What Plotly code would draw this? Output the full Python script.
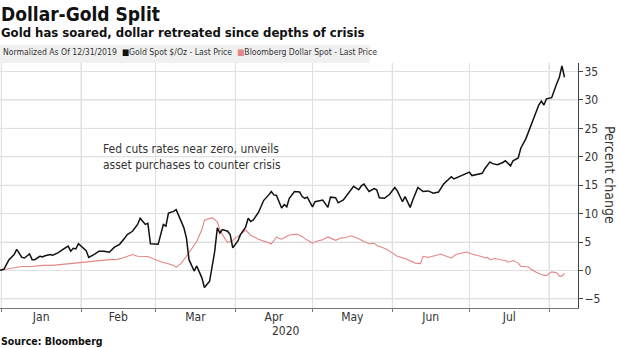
import plotly.graph_objects as go

FONT = "Liberation Sans Narrow, DejaVu Sans Condensed, Roboto Condensed, Arial Narrow, sans-serif"

gold_dates = [
    "2019-12-31", "2020-01-02", "2020-01-04", "2020-01-06", "2020-01-07", "2020-01-08",
    "2020-01-09", "2020-01-10", "2020-01-12", "2020-01-13", "2020-01-14", "2020-01-16",
    "2020-01-17", "2020-01-18", "2020-01-20", "2020-01-21", "2020-01-23", "2020-01-25",
    "2020-01-27", "2020-01-28", "2020-01-29", "2020-01-30", "2020-01-31",
    "2020-02-03", "2020-02-04", "2020-02-06", "2020-02-08", "2020-02-10", "2020-02-12",
    "2020-02-14", "2020-02-16", "2020-02-18", "2020-02-19", "2020-02-21", "2020-02-23",
    "2020-02-24", "2020-02-26", "2020-02-27", "2020-02-28",
    "2020-03-02", "2020-03-04", "2020-03-05", "2020-03-06", "2020-03-08", "2020-03-09",
    "2020-03-11", "2020-03-12", "2020-03-13", "2020-03-14", "2020-03-16", "2020-03-17",
    "2020-03-19", "2020-03-20", "2020-03-22", "2020-03-23", "2020-03-24", "2020-03-25",
    "2020-03-26", "2020-03-27", "2020-03-29", "2020-03-30", "2020-03-31",
    "2020-04-02", "2020-04-03", "2020-04-05", "2020-04-06", "2020-04-07", "2020-04-08",
    "2020-04-10", "2020-04-11", "2020-04-12", "2020-04-14", "2020-04-15", "2020-04-16",
    "2020-04-17", "2020-04-19", "2020-04-20", "2020-04-21", "2020-04-22", "2020-04-24",
    "2020-04-26", "2020-04-27", "2020-04-28", "2020-04-29",
    "2020-05-01", "2020-05-02", "2020-05-04", "2020-05-05", "2020-05-07", "2020-05-08",
    "2020-05-10", "2020-05-11", "2020-05-13", "2020-05-15", "2020-05-17", "2020-05-19",
    "2020-05-20", "2020-05-21", "2020-05-23", "2020-05-25", "2020-05-26", "2020-05-27",
    "2020-05-29", "2020-05-31",
    "2020-06-02", "2020-06-03", "2020-06-05", "2020-06-06", "2020-06-08", "2020-06-09",
    "2020-06-11", "2020-06-13", "2020-06-15", "2020-06-17", "2020-06-19", "2020-06-21",
    "2020-06-22", "2020-06-24", "2020-06-25", "2020-06-27", "2020-06-29",
    "2020-07-01", "2020-07-02", "2020-07-04", "2020-07-06", "2020-07-07", "2020-07-09",
    "2020-07-10", "2020-07-12", "2020-07-14", "2020-07-15", "2020-07-17", "2020-07-18",
    "2020-07-20", "2020-07-21", "2020-07-23", "2020-07-24", "2020-07-25", "2020-07-27",
    "2020-07-28", "2020-07-29", "2020-07-30", "2020-07-31",
    "2020-08-02", "2020-08-04", "2020-08-05", "2020-08-06", "2020-08-07",
]
gold_values = [
    0.0, 0.2, 1.9, 2.8, 3.7, 3.1,
    2.3, 2.2, 2.9, 1.9, 1.9, 2.5,
    2.4, 2.6, 2.8, 2.7, 3.1, 3.7,
    4.3, 3.4, 3.9, 3.8, 4.7,
    3.5, 2.3, 2.8, 3.4, 3.4, 3.2,
    4.1, 4.6, 5.7, 6.3, 6.9, 8.1,
    9.2, 8.1, 8.3, 4.7,
    4.6, 8.1, 7.8, 10.1, 10.4, 10.7,
    8.6, 7.5, 5.7, 1.9, -0.1, 0.8,
    -1.3, -3.0, -1.9, 0.5, 3.4, 7.5,
    6.6, 7.2, 6.9, 6.3, 4.0,
    5.2, 6.3, 7.6, 9.2, 8.6, 8.9,
    10.2, 11.3, 12.3, 13.3, 13.9, 13.3,
    13.2, 11.0, 11.6, 11.2, 12.7, 13.9,
    13.8, 13.0, 12.7, 12.9,
    11.2, 12.1, 12.3, 12.4, 11.1, 12.9,
    12.8, 11.9, 12.4, 13.6, 14.8, 14.2,
    14.9, 15.2, 13.9, 14.4, 14.2, 12.8,
    12.7, 13.4,
    14.6, 14.0, 12.1, 13.0, 11.1, 12.4,
    14.6, 13.9, 14.0, 13.6, 13.8, 15.2,
    15.6, 16.5, 16.1, 16.5, 16.8,
    17.3, 16.7, 16.9, 17.1, 17.9, 19.1,
    18.8, 18.6, 19.0, 19.3, 18.4, 19.3,
    19.8, 21.5, 23.2, 24.4, 25.3, 27.9,
    29.1, 29.8, 29.1, 30.2,
    30.4, 32.9, 34.0, 36.0, 34.0,
]

dollar_dates = [
    "2019-12-31", "2020-01-04", "2020-01-07", "2020-01-09", "2020-01-13", "2020-01-17",
    "2020-01-21", "2020-01-24", "2020-01-28", "2020-01-31",
    "2020-02-03", "2020-02-07", "2020-02-11", "2020-02-15", "2020-02-17", "2020-02-21",
    "2020-02-23", "2020-02-27", "2020-02-29",
    "2020-03-03", "2020-03-06", "2020-03-08", "2020-03-09", "2020-03-11", "2020-03-13",
    "2020-03-15", "2020-03-17", "2020-03-19", "2020-03-20", "2020-03-23", "2020-03-25",
    "2020-03-26", "2020-03-27", "2020-03-29", "2020-03-31",
    "2020-04-01", "2020-04-03", "2020-04-05", "2020-04-07", "2020-04-10", "2020-04-12",
    "2020-04-15", "2020-04-17", "2020-04-19", "2020-04-22", "2020-04-25", "2020-04-27",
    "2020-04-28", "2020-04-30",
    "2020-05-01", "2020-05-03", "2020-05-05", "2020-05-07", "2020-05-10", "2020-05-12",
    "2020-05-14", "2020-05-16", "2020-05-19", "2020-05-21", "2020-05-23", "2020-05-25",
    "2020-05-26", "2020-05-28", "2020-05-30",
    "2020-06-01", "2020-06-03", "2020-06-06", "2020-06-08", "2020-06-10", "2020-06-12",
    "2020-06-13", "2020-06-15", "2020-06-17", "2020-06-19", "2020-06-20", "2020-06-22",
    "2020-06-24", "2020-06-26", "2020-06-28", "2020-06-30",
    "2020-07-02", "2020-07-04", "2020-07-06", "2020-07-07", "2020-07-08", "2020-07-09",
    "2020-07-11", "2020-07-13", "2020-07-15", "2020-07-16", "2020-07-18", "2020-07-20",
    "2020-07-21", "2020-07-24", "2020-07-25", "2020-07-27", "2020-07-29", "2020-07-31",
    "2020-08-01", "2020-08-02", "2020-08-04", "2020-08-05", "2020-08-06", "2020-08-07",
]
dollar_values = [
    0.0, 0.3, 0.5, 0.7, 0.7, 0.9,
    0.9, 1.05, 1.2, 1.3,
    1.5, 1.75, 1.86, 1.95, 2.15, 2.8,
    2.5, 2.45, 2.05,
    1.55, 1.2, 0.9, 0.55, 1.3, 2.5,
    3.85, 5.1, 7.2, 8.85, 9.3, 8.55,
    7.2, 6.3, 4.9, 5.3,
    5.7, 6.3, 7.1, 6.2, 5.5, 5.2,
    4.7, 5.85, 5.5, 6.25, 6.4, 6.0,
    5.6, 5.1,
    4.8, 5.2, 5.4, 5.9, 5.3, 5.7,
    5.8, 6.1, 5.6, 5.1, 4.7, 4.8,
    4.4, 4.1, 3.7,
    3.1, 2.5, 2.1, 1.75, 1.3, 1.2,
    2.5, 2.3, 2.5, 2.8, 2.9, 2.5,
    2.2, 2.85, 3.1, 3.25,
    2.9, 2.7, 2.4, 2.2, 2.3, 1.9,
    2.1, 1.9, 1.75, 1.45, 1.75, 1.3,
    0.75, 0.6, 0.2, -0.3, -0.7, -0.9,
    -0.6, -0.25, -0.4, -1.0, -1.0, -0.5,
]

y_ticks = [-5, 0, 5, 10, 15, 20, 25, 30, 35]
month_starts = ["2020-01-01", "2020-02-01", "2020-03-01", "2020-04-01",
                "2020-05-01", "2020-06-01", "2020-07-01", "2020-08-01"]

GOLD_COLOR = "#111111"
DOLLAR_COLOR = "#e58585"
GRID = "#e0e0e0"

fig = go.Figure()
fig.add_trace(go.Scatter(x=dollar_dates, y=dollar_values, mode="lines",
                         line=dict(color=DOLLAR_COLOR, width=1.1),
                         name="Bloomberg Dollar Spot - Last Price"))
fig.add_trace(go.Scatter(x=gold_dates, y=gold_values, mode="lines",
                         line=dict(color=GOLD_COLOR, width=1.5),
                         name="Gold Spot $/Oz - Last Price"))

fig.update_layout(
    template="none",
    width=620, height=348,
    margin=dict(l=0, r=42, t=63, b=40),
    paper_bgcolor="white", plot_bgcolor="rgba(0,0,0,0)",
    showlegend=False,
    font=dict(family=FONT, color="#333333", size=12),
    xaxis=dict(
        type="date",
        range=["2019-12-31 12:00", "2020-08-12 06:00"],
        dtick="M1", tick0="2020-01-01",
        tickformat="%b", ticklabelmode="period",
        showgrid=True, gridcolor=GRID, gridwidth=1,
        showline=True, linecolor="#777777", linewidth=1,
        ticks="outside", ticklen=3, tickcolor="#777777",
        tickfont=dict(size=12, color="#333333", family=FONT),
        ticklabelstandoff=-5,
        zeroline=False,
    ),
    yaxis=dict(
        side="right",
        range=[-6.6, 36.5],
        tickvals=y_ticks,
        showgrid=True, gridcolor=GRID, gridwidth=1,
        showline=True, linecolor="#444444", linewidth=1,
        ticks="outside", ticklen=4, tickcolor="#444444",
        tickfont=dict(size=12, color="#333333", family=FONT),
        ticklabelstandoff=-1,
        zeroline=False,
    ),
)

# gridlines as shapes tied to the axes (month boundaries and y ticks)
for m in month_starts:
    fig.add_shape(type="line", xref="x", yref="paper", x0=m, x1=m, y0=0, y1=1,
                  line=dict(color=GRID, width=1), layer="below")
for v in y_ticks:
    fig.add_shape(type="line", xref="paper", yref="y", x0=0, x1=1, y0=v, y1=v,
                  line=dict(color=GRID, width=1), layer="below")

# legend band above the plot area
fig.add_shape(type="rect", xref="paper", yref="paper",
              x0=0, x1=370 / 578, y0=1.0, y1=1.0 + 18 / 245,
              fillcolor="#f0f0f0", line=dict(width=0), layer="below")

legend_text = ("Normalized As Of 12/31/2019  "
               f"<span style='color:{GOLD_COLOR}'>■</span>Gold Spot $/Oz - Last Price  "
               f"<span style='color:{DOLLAR_COLOR}'>■</span>Bloomberg Dollar Spot - Last Price")

fig.add_annotation(text="<b>Dollar-Gold Split</b>", xref="paper", yref="paper",
                   x=0, y=1 + 62 / 245, xanchor="left", yanchor="top", showarrow=False,
                   xshift=-1, font=dict(size=19, color="#111111", family=FONT))
fig.add_annotation(text="<b>Gold has soared, dollar retreated since depths of crisis</b>",
                   xref="paper", yref="paper", x=0, y=1 + 40 / 245,
                   xanchor="left", yanchor="top", showarrow=False, xshift=-1,
                   font=dict(size=13, color="#111111", family=FONT))
fig.add_annotation(text=legend_text, xref="paper", yref="paper",
                   x=0, y=1 + 10.5 / 245, xanchor="left", yanchor="middle",
                   showarrow=False, xshift=1,
                   font=dict(size=8.6, color="#333333", family=FONT))
fig.add_annotation(text="Fed cuts rates near zero, unveils<br>asset purchases to counter crisis",
                   xref="paper", yref="paper", x=101 / 578, y=(308 - 140) / 245,
                   xanchor="left", yanchor="top", align="left", showarrow=False,
                   font=dict(size=12, color="#333333", family=FONT))
fig.add_annotation(text="Percent change", xref="paper", yref="paper",
                   x=1, y=(308 - 175) / 245, xanchor="center", yanchor="middle",
                   xshift=32, textangle=90, showarrow=False,
                   font=dict(size=14, color="#333333", family=FONT))
fig.add_annotation(text="2020", xref="paper", yref="paper",
                   x=286 / 578, y=-22.5 / 245, xanchor="center", yanchor="middle",
                   showarrow=False, font=dict(size=12, color="#333333", family=FONT))
fig.add_annotation(text="<b>Source: Bloomberg</b>", xref="paper", yref="paper",
                   x=0, y=-32.5 / 245, xanchor="left", yanchor="middle",
                   showarrow=False, xshift=-1,
                   font=dict(size=10.5, color="#111111", family=FONT))

fig.write_html("out.html")
